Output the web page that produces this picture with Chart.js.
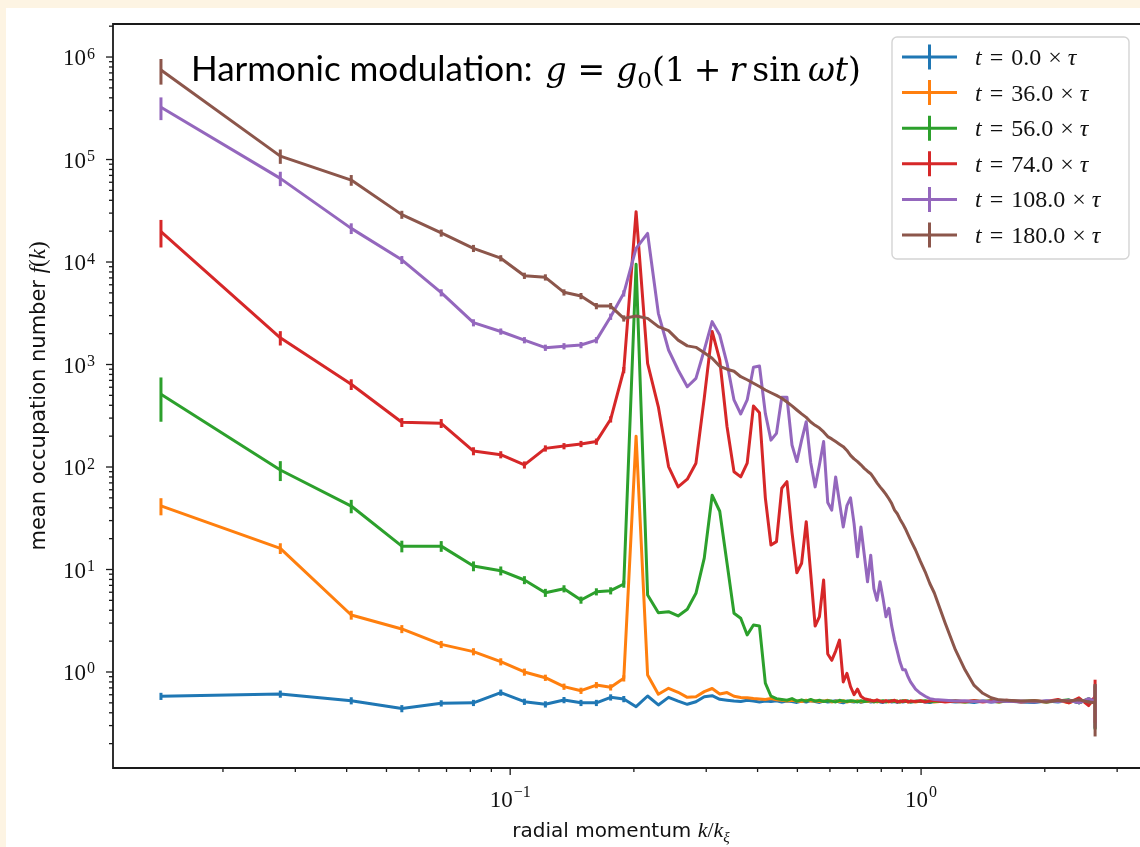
<!DOCTYPE html>
<html lang="en">
<head>
  <meta charset="UTF-8" />
  <title>Mean occupation number vs radial momentum</title>
  <script src="https://cdn.jsdelivr.net/npm/chart.js"></script>
  <style>
    html, body { margin: 0; padding: 0; background: #fdf4e3; }
    #spectrum { display: block; }
  </style>
</head>
<body>
  <canvas id="spectrum" width="1140" height="847"></canvas>

  <script>
    const K = [
      0.01413, 0.02758, 0.04104, 0.05449, 0.06795, 0.08140, 0.09486, 0.1083, 0.1218, 0.1352,
      0.1487, 0.1621, 0.1756, 0.1890, 0.2025, 0.2160, 0.2294, 0.2429, 0.2563, 0.2698,
      0.2832, 0.2967, 0.3101, 0.3236, 0.3371, 0.3505, 0.3640, 0.3774, 0.3909, 0.4043,
      0.4178, 0.4312, 0.4447, 0.4581, 0.4716, 0.4851, 0.4985, 0.5120, 0.5254, 0.5389,
      0.5523, 0.5658, 0.5792, 0.5927, 0.6061, 0.6196, 0.6331, 0.6465, 0.6600, 0.6734,
      0.6869, 0.7003, 0.7138, 0.7272, 0.7407, 0.7541, 0.7676, 0.7811, 0.7945, 0.8080,
      0.8214, 0.8349, 0.8483, 0.8618, 0.8752, 0.8887, 0.9021, 0.9156, 0.9291, 0.9425,
      0.9694, 0.9963, 1.0232, 1.0501, 1.0771, 1.1443, 1.2116, 1.2789, 1.3462, 1.4134,
      1.4807, 1.5480, 1.6153, 1.7498, 1.8844, 2.0189, 2.1535, 2.2880, 2.4226, 2.5571, 2.6513
    ];

    const f_t0 = [
      0.58, 0.61, 0.525, 0.44, 0.495, 0.50, 0.63, 0.513, 0.484, 0.533,
      0.50, 0.50, 0.566, 0.545, 0.459, 0.583, 0.477, 0.566, 0.52, 0.484,
      0.513, 0.574, 0.587, 0.541, 0.53, 0.52, 0.515, 0.53, 0.52, 0.51,
      0.52, 0.515, 0.525, 0.51, 0.52, 0.515, 0.505, 0.52, 0.51, 0.525,
      0.515, 0.505, 0.52, 0.51, 0.515, 0.525, 0.51, 0.50, 0.52, 0.515,
      0.51, 0.52, 0.505, 0.515, 0.52, 0.51, 0.515, 0.525, 0.51, 0.505,
      0.515, 0.52, 0.51, 0.515, 0.505, 0.52, 0.51, 0.515, 0.52, 0.51,
      0.515, 0.52, 0.51, 0.505, 0.515, 0.52, 0.51, 0.515, 0.505, 0.52,
      0.51, 0.515, 0.52, 0.51, 0.505, 0.52, 0.51, 0.53, 0.50, 0.54, 0.51
    ];

    const f_t36 = [
      41.7, 16.1, 3.6, 2.63, 1.86, 1.58, 1.26, 1.0, 0.88, 0.72,
      0.657, 0.746, 0.709, 0.868, 200, 0.935, 0.606, 0.693, 0.634, 0.566,
      0.574, 0.643, 0.69, 0.61, 0.63, 0.58, 0.565, 0.56, 0.55, 0.545,
      0.54, 0.55, 0.535, 0.53, 0.52, 0.53, 0.52, 0.515, 0.53, 0.52,
      0.525, 0.515, 0.52, 0.53, 0.51, 0.52, 0.515, 0.525, 0.51, 0.52,
      0.515, 0.525, 0.51, 0.52, 0.515, 0.52, 0.525, 0.51, 0.52, 0.515,
      0.52, 0.51, 0.525, 0.515, 0.52, 0.51, 0.52, 0.525, 0.51, 0.52,
      0.51, 0.52, 0.515, 0.525, 0.51, 0.52, 0.515, 0.51, 0.525, 0.515,
      0.52, 0.51, 0.525, 0.515, 0.52, 0.51, 0.53, 0.50, 0.545, 0.49, 0.52
    ];

    const f_t56 = [
      512, 93.5, 41.6, 16.9, 16.9, 10.8, 9.73, 7.9, 5.94, 6.5,
      5.04, 6.07, 6.21, 7.22, 9500, 5.64, 3.79, 3.88, 3.52, 4.09,
      5.86, 12.9, 53, 37, 11.5, 3.74, 3.34, 2.30, 2.87, 2.81,
      0.78, 0.58, 0.55, 0.54, 0.53, 0.55, 0.52, 0.535, 0.52, 0.54,
      0.52, 0.53, 0.515, 0.525, 0.52, 0.51, 0.53, 0.52, 0.515, 0.525,
      0.52, 0.51, 0.525, 0.515, 0.52, 0.53, 0.51, 0.52, 0.515, 0.525,
      0.51, 0.52, 0.525, 0.515, 0.52, 0.51, 0.525, 0.515, 0.52, 0.51,
      0.52, 0.515, 0.525, 0.51, 0.52, 0.515, 0.525, 0.51, 0.52, 0.515,
      0.525, 0.51, 0.52, 0.515, 0.525, 0.51, 0.52, 0.535, 0.50, 0.55, 0.50
    ];

    const f_t74 = [
      19800, 1824, 641, 273, 267, 143, 132, 105, 152, 160,
      168, 177, 292, 884, 31000, 1027, 387, 101, 64, 76,
      109, 470, 2100, 1107, 247, 90, 80, 109, 394, 339,
      50, 17.3, 18.7, 62, 72, 23, 9.3, 11.5, 29.3, 9,
      2.81, 3.47, 7.9, 1.5, 1.3, 1.6, 2.05, 0.8, 0.97, 0.72,
      0.60, 0.68, 0.58, 0.55, 0.54, 0.53, 0.52, 0.535, 0.52, 0.51,
      0.525, 0.515, 0.52, 0.53, 0.51, 0.52, 0.515, 0.525, 0.51, 0.52,
      0.515, 0.525, 0.51, 0.52, 0.53, 0.51, 0.52, 0.515, 0.525, 0.51,
      0.52, 0.515, 0.53, 0.51, 0.52, 0.515, 0.54, 0.50, 0.56, 0.47, 0.58
    ];

    const f_t108 = [
      323000, 65500, 21300, 10500, 5020, 2560, 2100, 1730, 1460, 1510,
      1550, 1730, 2930, 4950, 13600, 19000, 3160, 1385, 884, 607,
      733, 1385, 2620, 1940, 1028, 451, 329, 451, 940, 967,
      334, 183, 213, 479, 479, 164, 113, 183, 277, 110,
      64, 105, 177, 45, 38, 80, 45, 26, 42, 50,
      28, 13.3, 26, 14, 7.6, 13.8, 6.5, 5.0, 7.6, 5.2,
      3.46, 4.18, 2.8, 2.05, 1.6, 1.25, 1.05, 1.05, 0.9, 0.8,
      0.68, 0.62, 0.58, 0.55, 0.54, 0.53, 0.52, 0.525, 0.515, 0.52,
      0.51, 0.525, 0.515, 0.52, 0.51, 0.525, 0.515, 0.53, 0.50, 0.55, 0.52
    ];

    const f_t180 = [
      747000, 108000, 63000, 29000, 19200, 13600, 10900, 7350, 7090, 5060,
      4660, 3720, 3720, 2820, 2970, 2820, 2340, 2140, 1730, 1520,
      1470, 1300, 1150, 960, 900, 860, 760, 710, 656, 610,
      564, 530, 500, 468, 430, 395, 360, 330, 305, 275,
      255, 240, 220, 198, 188, 177, 167, 158, 145, 130,
      120, 113, 105, 97, 91, 86, 78, 70, 64, 59,
      54, 49, 44, 38, 35, 31, 28, 25, 22, 19.5,
      15.5, 12, 9.5, 7.3, 5.9, 3.0, 1.65, 1.05, 0.74, 0.62,
      0.56, 0.535, 0.53, 0.52, 0.525, 0.51, 0.53, 0.52, 0.535, 0.51, 0.50
    ];

    // relative error bars of the first 14 bins, and of the last bin
    const err_t0   = [0.08, 0.08, 0.08, 0.08, 0.07, 0.07, 0.07, 0.07, 0.07, 0.07, 0.07, 0.07, 0.07, 0.07];
    const err_t36  = [0.19, 0.12, 0.10, 0.09, 0.08, 0.08, 0.08, 0.08, 0.07, 0.07, 0.07, 0.07, 0.07, 0.07];
    const err_t56  = [0.46, 0.22, 0.15, 0.13, 0.12, 0.11, 0.10, 0.09, 0.09, 0.08, 0.08, 0.08, 0.08, 0.08];
    const err_t74  = [0.30, 0.16, 0.12, 0.10, 0.10, 0.09, 0.08, 0.08, 0.07, 0.07, 0.07, 0.07, 0.07, 0.07];
    const err_t108 = [0.25, 0.16, 0.12, 0.09, 0.08, 0.08, 0.07, 0.07, 0.07, 0.07, 0.07, 0.07, 0.07, 0.07];
    const err_t180 = [0.28, 0.16, 0.12, 0.09, 0.08, 0.08, 0.07, 0.07, 0.07, 0.07, 0.07, 0.07, 0.07, 0.07];
    const errLast  = [0.45, 0.45, 0.45, 0.45, 0.45, 0.53];

    const times  = ['0.0', '36.0', '56.0', '74.0', '108.0', '180.0'];
    const colors = ['#1f77b4', '#ff7f0e', '#2ca02c', '#d62728', '#9467bd', '#8c564b'];
    const series = [f_t0, f_t36, f_t56, f_t74, f_t108, f_t180];
    const errors = [err_t0, err_t36, err_t56, err_t74, err_t108, err_t180];

    // axis limits
    const X_MIN = 0.0108, X_MAX = 3.41;
    const Y_MIN = 0.1157, Y_MAX = 2.1e6;
    const X_DECADES = [-2, -1, 0];
    const Y_DECADES = [-1, 0, 1, 2, 3, 4, 5, 6];

    const LINE_W = 3;
    const SERIF = "'Liberation Serif', 'DejaVu Serif', serif";
    const MATH = "'DejaVu Serif', serif";
    const SANS = "'DejaVu Sans', sans-serif";
    const TITLE_SANS = "Lato, 'Open Sans', sans-serif";

    // draw a list of [text, font, dy, gapAfter] pieces one after the other, returns width
    function runs(ctx, parts, x, y, measureOnly) {
      let cx = x;
      parts.forEach(([text, font, dy, gap]) => {
        ctx.font = font;
        if (!measureOnly) ctx.fillText(text, cx, y + (dy || 0));
        cx += ctx.measureText(text).width + (gap || 0);
      });
      return cx - x;
    }

    const background = {
      id: 'background',
      beforeDraw(chart) {
        const ctx = chart.ctx;
        ctx.save();
        ctx.fillStyle = '#fdf4e3';
        ctx.fillRect(0, 0, chart.width, chart.height);
        ctx.fillStyle = '#ffffff';
        ctx.fillRect(6, 8, chart.width - 6, chart.height - 8);
        ctx.restore();
      }
    };

    const errorBars = {
      id: 'errorBars',
      afterDatasetDraw(chart, args) {
        const ds = chart.data.datasets[args.index];
        const { ctx, chartArea, scales } = chart;
        ctx.save();
        ctx.beginPath();
        ctx.rect(chartArea.left, chartArea.top, chartArea.width, chartArea.height);
        ctx.clip();
        ctx.strokeStyle = ds.borderColor;
        ctx.lineWidth = LINE_W;
        const last = ds.data.length - 1;
        ds.data.forEach((p, j) => {
          const e = j < ds.errLow.length ? ds.errLow[j] : (j === last ? ds.errEnd : 0);
          if (!e) return;
          const px = scales.x.getPixelForValue(p.x);
          ctx.beginPath();
          ctx.moveTo(px, scales.y.getPixelForValue(p.y * (1 + e)));
          ctx.lineTo(px, scales.y.getPixelForValue(p.y * (1 - e)));
          ctx.stroke();
        });
        ctx.restore();
      }
    };

    const axesAndText = {
      id: 'axesAndText',
      afterDraw(chart) {
        const { ctx, chartArea: a, scales } = chart;
        ctx.save();
        ctx.fillStyle = '#111';
        ctx.strokeStyle = '#1a1a1a';

        // spines
        ctx.lineWidth = 1.8;
        ctx.beginPath();
        ctx.moveTo(chart.width, a.top); ctx.lineTo(a.left, a.top);
        ctx.lineTo(a.left, a.bottom); ctx.lineTo(chart.width, a.bottom);
        ctx.stroke();

        // y ticks + labels
        ctx.lineWidth = 1.3;
        ctx.textBaseline = 'alphabetic';
        Y_DECADES.forEach(e => {
          for (let m = 1; m <= 9; m++) {
            const v = m * Math.pow(10, e);
            if (v < Y_MIN || v > Y_MAX) continue;
            const py = scales.y.getPixelForValue(v);
            ctx.beginPath();
            ctx.moveTo(a.left, py);
            ctx.lineTo(a.left - (m === 1 ? 7 : 4), py);
            ctx.stroke();
            if (m === 1) {
              const sup = String(e).replace('-', '\u2212');
              ctx.font = `16px ${SERIF}`;
              const sw = ctx.measureText(sup).width;
              ctx.font = `23px ${SERIF}`;
              const bw = ctx.measureText('10').width;
              const right = a.left - 18;
              ctx.fillText('10', right - sw - bw - 1, py + 8);
              ctx.font = `16px ${SERIF}`;
              ctx.fillText(sup, right - sw, py + 1.5);
            }
          }
        });

        // x ticks + labels
        X_DECADES.forEach(e => {
          for (let m = 1; m <= 9; m++) {
            const v = m * Math.pow(10, e);
            if (v < X_MIN || v > X_MAX) continue;
            const px = scales.x.getPixelForValue(v);
            ctx.beginPath();
            ctx.moveTo(px, a.bottom);
            ctx.lineTo(px, a.bottom + (m === 1 ? 7 : 4));
            ctx.stroke();
            if (m === 1) {
              const sup = String(e).replace('-', '\u2212');
              ctx.font = `16px ${SERIF}`;
              const sw = ctx.measureText(sup).width;
              ctx.font = `23px ${SERIF}`;
              const bw = ctx.measureText('10').width;
              const x0 = px - (bw + sw + 1) / 2;
              ctx.fillText('10', x0, a.bottom + 39);
              ctx.font = `16px ${SERIF}`;
              ctx.fillText(sup, x0 + bw + 1, a.bottom + 29);
            }
          }
        });

        // axis titles
        const xTitle = [
          ['radial momentum ', `20px ${SANS}`],
          ['k', `italic 22px ${SERIF}`],
          ['/', `22px ${SERIF}`],
          ['k', `italic 22px ${SERIF}`],
          ['\u03be', `italic 15px ${SERIF}`, 5]
        ];
        const xw = runs(ctx, xTitle, 0, 0, true);
        runs(ctx, xTitle, 621 - xw / 2, 837);

        const yTitle = [
          ['mean occupation number ', `21px ${SANS}`],
          ['f', `italic 23px ${SERIF}`],
          ['(', `23px ${SERIF}`],
          ['k', `italic 23px ${SERIF}`],
          [')', `23px ${SERIF}`]
        ];
        const yw = runs(ctx, yTitle, 0, 0, true);
        ctx.save();
        ctx.translate(45, (a.top + a.bottom) / 2);
        ctx.rotate(-Math.PI / 2);
        runs(ctx, yTitle, -yw / 2, 0);
        ctx.restore();

        // annotation
        ctx.fillStyle = '#000';
        const head = runs(ctx, [['Harmonic modulation: ', `35px ${TITLE_SANS}`]], 191, 81);
        runs(ctx, [
          ['g', `italic 33px ${MATH}`, 0, 11],
          ['=', `33px ${MATH}`, 0, 11],
          ['g', `italic 33px ${MATH}`],
          ['0', `23px ${MATH}`, 7],
          ['(1', `33px ${MATH}`, 0, 8],
          ['+', `33px ${MATH}`, 0, 8],
          ['r', `italic 33px ${MATH}`, 0, 7],
          ['sin', `33px ${MATH}`, 0, 7],
          ['\u03c9t', `italic 33px ${MATH}`],
          [')', `33px ${MATH}`]
        ], 191 + head + 4, 81);

        // legend
        const bx = 892, by = 37, bw = 237, bh = 222;
        ctx.beginPath();
        ctx.roundRect(bx, by, bw, bh, 5);
        ctx.fillStyle = 'rgba(255,255,255,0.8)';
        ctx.fill();
        ctx.strokeStyle = '#d4d4d4';
        ctx.lineWidth = 1.4;
        ctx.stroke();
        times.forEach((t, i) => {
          const cy = 57 + i * 35.6;
          ctx.strokeStyle = colors[i];
          ctx.lineWidth = 3;
          ctx.beginPath();
          ctx.moveTo(902, cy); ctx.lineTo(957, cy);
          ctx.moveTo(929.5, cy - 12.5); ctx.lineTo(929.5, cy + 12.5);
          ctx.stroke();
          ctx.fillStyle = '#111';
          runs(ctx, [
            ['t', `italic 24px ${SERIF}`, 0, 8],
            ['=', `24px ${SERIF}`, 0, 8],
            [t, `24px ${SERIF}`, 0, 7],
            ['\u00d7', `24px ${SERIF}`, 0, 6],
            ['\u03c4', `italic 24px ${SERIF}`]
          ], 975, cy + 8);
        });

        ctx.restore();
      }
    };

    const datasets = series.map((vals, i) => ({
      label: `t = ${times[i]} \u00d7 \u03c4`,
      data: K.map((k, j) => ({ x: k, y: vals[j] })),
      borderColor: colors[i],
      backgroundColor: colors[i],
      borderWidth: LINE_W,
      borderJoinStyle: 'round',
      pointRadius: 0,
      tension: 0,
      order: series.length - i,
      errLow: errors[i],
      errEnd: errLast[i]
    }));

    new Chart(document.getElementById('spectrum'), {
      type: 'line',
      data: { datasets },
      options: {
        responsive: false,
        animation: false,
        events: [],
        layout: { padding: { left: 113, top: 24, right: 0, bottom: 79 } },
        plugins: { legend: { display: false }, tooltip: { enabled: false } },
        scales: {
          x: { type: 'logarithmic', min: X_MIN, max: X_MAX, display: false },
          y: { type: 'logarithmic', min: Y_MIN, max: Y_MAX, display: false }
        }
      },
      plugins: [background, errorBars, axesAndText]
    });
  </script>
</body>
</html>
